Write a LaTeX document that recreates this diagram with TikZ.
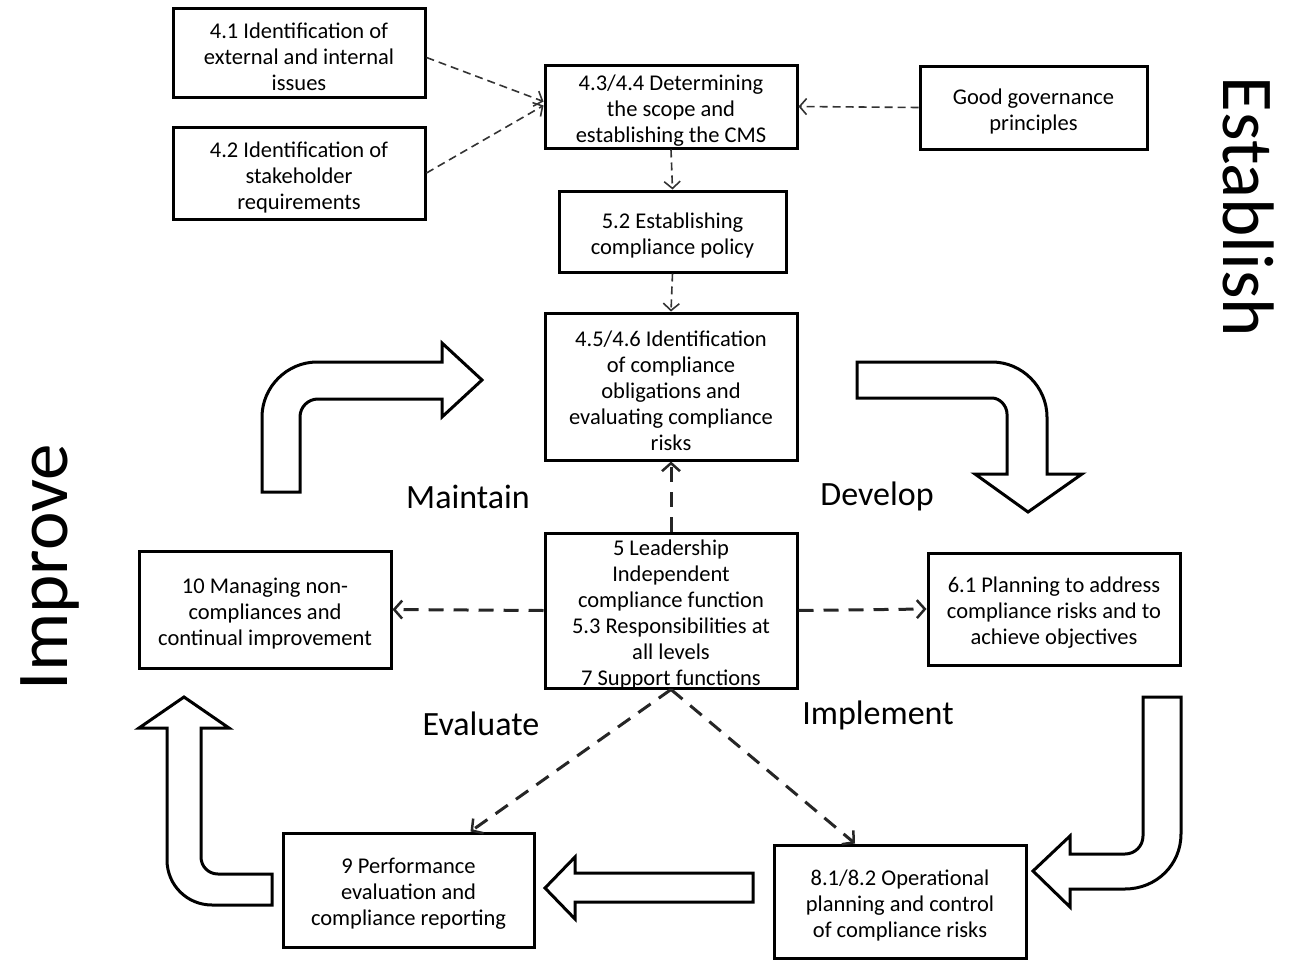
\documentclass[tikz,border=0pt]{standalone}
\usepackage{fontspec}
\setmainfont{Carlito}
\usetikzlibrary{arrows.meta,calc}
\tikzset{
  box/.style={draw, line width=3pt, fill=white, inner sep=0pt},
  boxtext/.style={align=center, inner sep=0pt, font=\fontsize{22.5}{26}\selectfont},
  thin dash/.style={draw=black!80, line width=1.6pt, dash pattern=on 8pt off 5pt,
    -{Straight Barb[length=7pt,width=16pt,line width=1.6pt]}},
  thick dash/.style={draw=black!85, line width=3pt, dash pattern=on 15pt off 10pt,
    -{Straight Barb[length=8pt,width=18pt,line width=2.5pt]}},
  blockarrow/.style={draw, line width=3pt, fill=white, line join=miter},
  phase/.style={font=\fontsize{34}{40}\selectfont},
  stage/.style={font=\fontsize{73}{80}\selectfont}
}
% #1 name, #2 width, #3 height, #4 centre, #5 text
\newcommand\mybox[5]{%
  \node[box, minimum width=#2, minimum height=#3] (#1) at #4 {};
  \node[boxtext] (#1-t) at ([yshift=-4pt]#1.center) {#5};}
\begin{document}
\begin{tikzpicture}[x=1pt,y=-1pt]
\useasboundingbox (0,0) rectangle (1296,961);

% boxes
\mybox{b41}{252pt}{89pt}{(299,52.5)}{4.1 Identification of\\external and internal\\issues}
\mybox{b42}{252pt}{92pt}{(299,173)}{4.2 Identification of\\stakeholder\\requirements}
\mybox{b43}{252pt}{83pt}{(671,106.5)}{4.3/4.4 Determining\\the scope and\\establishing the CMS}
\mybox{bgood}{227pt}{83pt}{(1033.5,107.5)}{Good governance\\principles}
\mybox{b52}{227pt}{81pt}{(672.5,231.5)}{5.2 Establishing\\compliance policy}
\mybox{b45}{252pt}{147pt}{(671,386.5)}{4.5/4.6 Identification\\of compliance\\obligations and\\evaluating compliance\\risks}
\mybox{b5}{252pt}{155pt}{(671,610.5)}{5 Leadership\\Independent\\compliance function\\5.3 Responsibilities at\\all levels\\7 Support functions}
\mybox{b10}{252pt}{117pt}{(265,609.5)}{10 Managing non-\\compliances and\\continual improvement}
\mybox{b61}{252pt}{112pt}{(1054,609)}{6.1 Planning to address\\compliance risks and to\\achieve objectives}
\mybox{b9}{251pt}{114pt}{(408.5,890)}{9 Performance\\evaluation and\\compliance reporting}
\mybox{b81}{252pt}{113pt}{(900,901.5)}{8.1/8.2 Operational\\planning and control\\of compliance risks}

% thin dashed connectors
\draw[thin dash] ([yshift=-5pt]b41.east) -- ([yshift=5pt]b43.west);
\draw[thin dash] (b42.east) -- ([yshift=1pt]b43.west);
\draw[thin dash] (bgood.west) -- (b43.east);
\draw[thin dash] (b43.south) -- (b52.north);
\draw[thin dash] (b52.south) -- (b45.north);

% thick dashed connectors
\draw[thick dash] (b5.north) -- (b45.south);
\draw[thick dash] (b5.west) -- (b10.east);
\draw[thick dash] (b5.east) -- (b61.west);
\draw[thick dash] (b5.south) -- ([xshift=62pt]b9.north);
\draw[thick dash] (b5.south) -- ([xshift=-45pt]b81.north);

% block arrows
\draw[blockarrow] (262,492) -- (262,417) .. controls (262,387) and (287,362) .. (317,362)
  -- (442,362) -- (442,343) -- (482,380) -- (442,417) -- (442,399) -- (318,399)
  .. controls (308,399) and (300,407) .. (300,417) -- (300,492) -- cycle;
\draw[blockarrow] (857,362) -- (992,362) .. controls (1022,362) and (1047,387) .. (1047,417)
  -- (1047,474) -- (1082,474) -- (1028,512) -- (975,474) -- (1007,474) -- (1007,414)
  .. controls (1007,406) and (1000,398) .. (992,398) -- (857,398) -- cycle;
\draw[blockarrow] (1143,697) -- (1181,697) -- (1181,834)
  .. controls (1181,865) and (1156,889) .. (1125,889) -- (1070,889) -- (1070,907)
  -- (1033,871) -- (1070,836) -- (1070,854) -- (1125,854)
  .. controls (1135,854) and (1143,846) .. (1143,836) -- cycle;
\draw[blockarrow] (272,874) -- (272,905) -- (212,905)
  .. controls (187,905) and (167,885) .. (167,860) -- (167,728) -- (139,728)
  -- (184,697) -- (229,728) -- (201,728) -- (201,857)
  .. controls (201,866) and (208,874) .. (218,874) -- cycle;
\draw[blockarrow] (753,873) -- (753,902) -- (575,902) -- (575,919) -- (545,888)
  -- (575,857) -- (575,873) -- cycle;

% phase labels
\node[phase] (lmaintain) at (468,497) {Maintain};
\node[phase] (ldevelop) at (877,496) {Develop};
\node[phase] (levaluate) at (481,724) {Evaluate};
\node[phase] (limplement) at (878,715) {Implement};

% stage labels
\node[stage, rotate=-90] (lestablish) at (1249,207) {Establish};
\node[stage, rotate=90] (limprove) at (50,567) {Improve};
\end{tikzpicture}
\end{document}
